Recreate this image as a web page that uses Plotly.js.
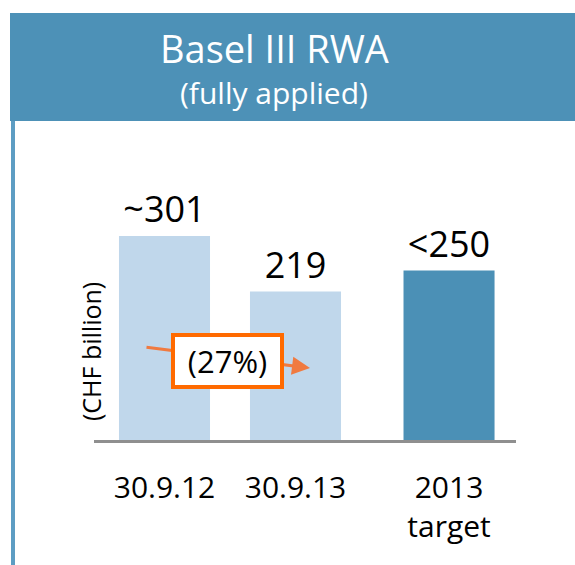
<!DOCTYPE html>
<html>
<head>
<meta charset="utf-8">
<script src="https://cdn.plot.ly/plotly-3.0.1.min.js"></script>
<style>html,body{margin:0;padding:0;background:#fff;}#chart{width:575px;height:565px;}</style>
</head>
<body>
<div id="chart"></div>
<script>
// Data
const categories = ["30.9.12", "30.9.13", "2013<br>target"];
const values = [301, 219, 250];
const valueLabels = ["~301", "219", "<250"];
const changeLabel = "(27%)";
const titleText = "Basel III RWA";
const subtitleText = "(fully applied)";
const yTitle = "(CHF billion)";

// Layout constants
const xPos = [0, 1, 2.172];
const barColors = ["#C0D7EB", "#C0D7EB", "#4B90B6"];
const L = 94, R = 516, T = 140, B = 440;
const W = 575, H = 565;
const yMax = 442.5;
const px = X => (X - L) / (R - L);
const py = Y => (B - Y) / (B - T);
const dx = X => (X - 164.5) / 131;
const dy = Y => (B - Y) * yMax / (B - T);
const FONT = "Open Sans, Noto Sans, sans-serif";

const trace = {
  type: "bar",
  x: xPos,
  y: values,
  width: 0.695,
  marker: {color: barColors, line: {width: 0}},
  text: valueLabels,
  textposition: "outside",
  textfont: {family: FONT, size: 36, color: "#000"},
  constraintext: "none",
  cliponaxis: false,
  hoverinfo: "none"
};

const layout = {
  width: W, height: H,
  margin: {l: L, r: W - R, t: T, b: H - B, pad: 0},
  paper_bgcolor: "#fff", plot_bgcolor: "rgba(0,0,0,0)",
  showlegend: false,
  font: {family: FONT},
  xaxis: {
    range: [dx(L), dx(R)],
    tickvals: xPos, ticktext: categories,
    tickfont: {family: FONT, size: 30, color: "#000"},
    ticks: "outside", ticklen: 19, tickcolor: "rgba(0,0,0,0)",
    showline: true, linecolor: "#8F8F8F", linewidth: 3,
    showgrid: false, zeroline: false, fixedrange: true
  },
  yaxis: {
    range: [0, yMax], visible: false, showgrid: false, zeroline: false, fixedrange: true
  },
  shapes: [
    {type: "rect", xref: "paper", yref: "paper", x0: px(10), x1: px(580), y0: py(121), y1: py(13),
     fillcolor: "#4D91B7", line: {width: 0}, layer: "below"},
    {type: "line", xref: "paper", yref: "paper", x0: px(13), x1: px(13), y0: py(121), y1: py(570),
     line: {color: "#5D9DC3", width: 4}, layer: "below"}
  ],
  annotations: [
    {xref: "paper", yref: "paper", x: px(274), y: py(48), text: titleText, showarrow: false,
     font: {family: FONT, size: 38, color: "#fff"}, xanchor: "center", yanchor: "middle"},
    {xref: "paper", yref: "paper", x: px(274), y: py(92), text: subtitleText, showarrow: false,
     font: {family: FONT, size: 30, color: "#fff"}, xanchor: "center", yanchor: "middle"},
    {xref: "paper", yref: "paper", x: px(91), y: py(352), text: yTitle, showarrow: false, textangle: -90,
     font: {family: FONT, size: 25, color: "#000"}, xanchor: "center", yanchor: "middle"},
    {xref: "x", yref: "y", axref: "x", ayref: "y", x: dx(310), y: dy(368), ax: dx(145), ay: dy(347),
     text: "", showarrow: true, arrowhead: 2, arrowsize: 1.2, arrowwidth: 3, arrowcolor: "#F07A40"},
    {xref: "paper", yref: "paper", x: px(227.5), y: py(361), text: changeLabel, showarrow: false,
     font: {family: FONT, size: 31, color: "#000"}, bgcolor: "#fff", bordercolor: "#FF6A00",
     borderwidth: 4, borderpad: 0, width: 105, height: 48, xanchor: "center", yanchor: "middle"}
  ]
};

Plotly.newPlot("chart", [trace], layout, {displayModeBar: false, staticPlot: true});
</script>
</body>
</html>
